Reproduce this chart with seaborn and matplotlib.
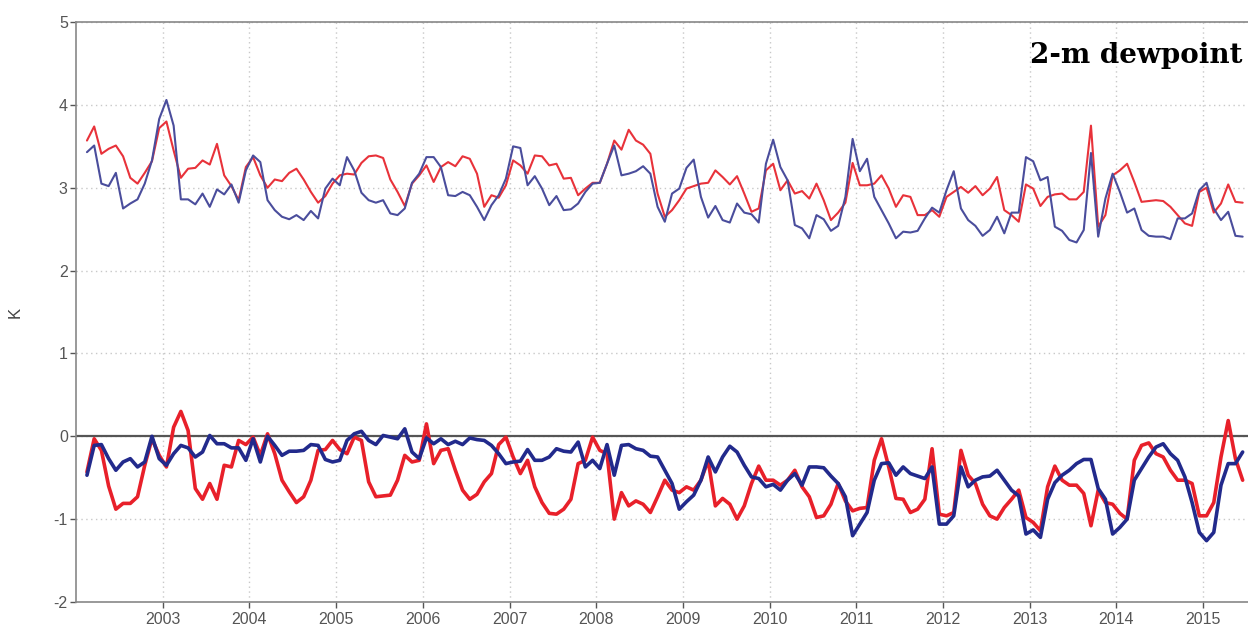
import numpy as np
import pandas as pd
import matplotlib
matplotlib.use('Agg')
import matplotlib.pyplot as plt
import seaborn as sb

# monthly values, Feb 2002 .. Jun 2015 (K)
red_up = [3.57, 3.74, 3.41, 3.47, 3.51, 3.38, 3.12, 3.05, 3.18, 3.32, 3.72, 3.80, 3.45, 3.12, 3.23, 3.24,
          3.33, 3.28, 3.53, 3.15, 3.02, 2.85, 3.25, 3.37, 3.15, 3.00, 3.10, 3.08, 3.18, 3.23, 3.10, 2.95,
          2.82, 2.90, 3.05, 3.15, 3.17, 3.16, 3.30, 3.38, 3.39, 3.36, 3.10, 2.95, 2.78, 3.05, 3.15,
          3.27, 3.07, 3.25, 3.31, 3.26, 3.38, 3.35, 3.17, 2.77, 2.91, 2.88, 3.03, 3.33, 3.27, 3.17, 3.39,
          3.38, 3.27, 3.29, 3.11, 3.12, 2.91, 2.99, 3.06, 3.06, 3.29, 3.57, 3.46, 3.70, 3.57, 3.52, 3.41,
          2.93, 2.65, 2.73, 2.85, 2.99, 3.02, 3.05, 3.06, 3.21, 3.13, 3.04, 3.14, 2.93, 2.71, 2.75, 3.21,
          3.29, 2.97, 3.09, 2.93, 2.96, 2.87, 3.05,
          2.85, 2.61, 2.70, 2.82, 3.30, 3.03, 3.03, 3.05, 3.15, 2.99, 2.77, 2.91, 2.89, 2.67, 2.67, 2.73,
          2.65, 2.89, 2.95, 3.01, 2.94, 3.02, 2.91, 2.99, 3.13, 2.73, 2.67, 2.59, 3.04, 2.99, 2.78, 2.89,
          2.92, 2.93, 2.86, 2.86, 2.95, 3.75, 2.53, 2.67, 3.15, 3.21, 3.29, 3.07, 2.83, 2.84, 2.85, 2.84,
          2.77, 2.67, 2.57, 2.54, 2.95, 3.00, 2.70, 2.81, 3.04, 2.83, 2.82]

blue_up = [3.43, 3.51, 3.05, 3.02, 3.18, 2.75, 2.81, 2.86, 3.05, 3.33, 3.83, 4.06, 3.75, 2.86, 2.86, 2.80,
           2.93, 2.77, 2.98, 2.92, 3.04, 2.82, 3.21, 3.39, 3.31, 2.85, 2.73, 2.65, 2.62, 2.67, 2.61, 2.72,
           2.63, 2.99, 3.11, 3.03, 3.37, 3.21, 2.94, 2.85, 2.82, 2.85, 2.69, 2.67, 2.75,
           3.06, 3.17, 3.37, 3.37, 3.25, 2.91, 2.90, 2.95, 2.91, 2.77, 2.61, 2.79, 2.91, 3.11, 3.50, 3.48,
           3.03, 3.14, 2.99, 2.79, 2.90, 2.73, 2.74, 2.81, 2.95, 3.05, 3.06, 3.29, 3.51, 3.15, 3.17, 3.20,
           3.26, 3.17, 2.77, 2.59, 2.93, 2.99, 3.24, 3.34, 2.89, 2.64, 2.78, 2.61, 2.58, 2.81, 2.70, 2.68,
           2.58, 3.29, 3.58, 3.25, 3.09, 2.55, 2.51, 2.39, 2.67,
           2.62, 2.48, 2.54, 2.89, 3.59, 3.20, 3.35, 2.89, 2.73, 2.57, 2.39, 2.47, 2.46, 2.48, 2.63, 2.76,
           2.70, 2.97, 3.20, 2.75, 2.61, 2.54, 2.42, 2.49, 2.65, 2.45, 2.70, 2.70, 3.37, 3.32, 3.09, 3.13,
           2.53, 2.48, 2.37, 2.34, 2.49, 3.42, 2.41, 2.87, 3.17, 2.95, 2.70, 2.75, 2.49, 2.42, 2.41, 2.41,
           2.38, 2.63, 2.63, 2.69, 2.97, 3.06, 2.75, 2.61, 2.71, 2.42, 2.41]

red_lo = [-0.43, -0.03, -0.17, -0.60, -0.88, -0.81, -0.81, -0.73, -0.35, -0.03, -0.23, -0.37, 0.11, 0.30,
          0.07, -0.63, -0.76, -0.57, -0.76, -0.35, -0.37, -0.05, -0.10, -0.01, -0.23, 0.03, -0.21, -0.53,
          -0.67, -0.80, -0.73, -0.53, -0.17, -0.16, -0.05, -0.16, -0.21, -0.01, -0.05, -0.55, -0.73, -0.72,
          -0.71, -0.53, -0.23, -0.31, -0.29, 0.15, -0.33, -0.17, -0.15, -0.41,
          -0.65, -0.76, -0.70, -0.55, -0.45, -0.10, -0.01, -0.25, -0.45, -0.29, -0.61, -0.80, -0.93, -0.94,
          -0.88, -0.76, -0.33, -0.29, -0.01, -0.17, -0.21, -1.00, -0.68, -0.84, -0.78, -0.82, -0.92, -0.73,
          -0.53, -0.65, -0.68, -0.61, -0.65, -0.53, -0.29, -0.84, -0.75, -0.82, -1.00, -0.84, -0.57, -0.36,
          -0.53, -0.53, -0.59, -0.53, -0.41, -0.61, -0.73, -0.98, -0.96, -0.82, -0.57,
          -0.78, -0.90, -0.87, -0.86, -0.29, -0.03, -0.37, -0.75, -0.76, -0.92, -0.88, -0.76, -0.15, -0.94,
          -0.96, -0.92, -0.17, -0.47, -0.57, -0.82, -0.96, -1.00, -0.86, -0.76, -0.65, -0.98, -1.04, -1.14,
          -0.61, -0.36, -0.53, -0.59, -0.59, -0.69, -1.08, -0.65, -0.80, -0.82, -0.93, -1.00, -0.29, -0.11,
          -0.08, -0.21, -0.25, -0.41, -0.53, -0.53, -0.57, -0.96, -0.96, -0.80, -0.25, 0.19, -0.27, -0.53]

blue_lo = [-0.47, -0.11, -0.10, -0.27, -0.41, -0.31, -0.27, -0.37, -0.31, 0.00, -0.27, -0.35, -0.21, -0.11,
           -0.14, -0.25, -0.19, 0.01, -0.09, -0.09, -0.14, -0.14, -0.29, -0.03, -0.31, 0.00, -0.11, -0.23,
           -0.18, -0.18, -0.17, -0.10, -0.11, -0.28, -0.31, -0.29, -0.05, 0.03, 0.06, -0.05, -0.10, 0.01,
           -0.01, -0.03, 0.09, -0.19, -0.27, -0.02, -0.09, -0.03, -0.10, -0.06,
           -0.10, -0.02, -0.04, -0.05, -0.11, -0.21, -0.33, -0.31, -0.30, -0.16, -0.29, -0.29, -0.25, -0.15,
           -0.18, -0.19, -0.07, -0.37, -0.29, -0.39, -0.10, -0.47, -0.11, -0.10, -0.15, -0.17, -0.24, -0.25,
           -0.41, -0.57, -0.88, -0.79, -0.71, -0.53, -0.25, -0.43, -0.25, -0.12, -0.19, -0.35, -0.49, -0.51,
           -0.61, -0.58, -0.65, -0.53, -0.45, -0.59, -0.37, -0.37, -0.38,
           -0.48, -0.57, -0.73, -1.20, -1.06, -0.92, -0.53, -0.33, -0.32, -0.47, -0.37, -0.45, -0.48, -0.51,
           -0.37, -1.06, -1.06, -0.96, -0.37, -0.61, -0.53, -0.49, -0.48, -0.41, -0.53, -0.65, -0.72, -1.18,
           -1.13, -1.22, -0.76, -0.56, -0.47, -0.41, -0.33, -0.28, -0.28, -0.63, -0.76, -1.18, -1.10, -1.00,
           -0.53, -0.39, -0.25, -0.13, -0.09, -0.21, -0.29, -0.49, -0.80, -1.16, -1.26, -1.16, -0.59, -0.33,
           -0.33, -0.19]

years = list(range(2003, 2016))
yticks = [-2, -1, 0, 1, 2, 3, 4, 5]

# mid-month time axis in decimal years
t = 2002.125 + np.arange(len(red_up)) / 12
data = pd.DataFrame({'t': t, 'red_up': red_up, 'blue_up': blue_up,
                     'red_lo': red_lo, 'blue_lo': blue_lo})

sb.set_style('white')
plt.rcParams['font.family'] = ['Liberation Sans', 'DejaVu Sans']
plt.rcParams['axes.unicode_minus'] = False

fig = plt.figure(figsize=(12.48, 6.31), dpi=100)
ax = fig.add_axes([0.061, 0.046, 0.939, 0.919])

ax.axhline(0, color='#555555', lw=1.6, zorder=1)

sb.lineplot(data=data, x='t', y='red_up', color='#e8323a', lw=1.5, ax=ax)
sb.lineplot(data=data, x='t', y='blue_up', color='#4a4d9c', lw=1.5, ax=ax)
sb.lineplot(data=data, x='t', y='red_lo', color='#e8202a', lw=2.6, ax=ax)
sb.lineplot(data=data, x='t', y='blue_lo', color='#222a8c', lw=2.6, ax=ax)

ax.set_xlim(2002.0, 2015.52)
ax.set_ylim(-2, 5)
ax.set_xticks(years)
ax.set_xticklabels([str(y) for y in years])
ax.set_yticks(yticks)
ax.grid(True, color='#c8c8c8', linestyle=(0, (1, 2.5)), lw=1.0)
ax.tick_params(axis='both', colors='#555555', labelsize=11.5, length=4, width=1,
               direction='out', bottom=True, left=True)
ax.tick_params(axis='y', pad=2)
ax.tick_params(axis='x', pad=3)

for side in ['left', 'bottom', 'top']:
    ax.spines[side].set_color('#888888')
    ax.spines[side].set_linewidth(1.2)
ax.spines['right'].set_visible(False)

ax.set_xlabel('')
ax.set_ylabel('K', color='#444444', fontsize=12, labelpad=22)

ax.text(0.9957, 0.929, '2-m dewpoint', transform=ax.transAxes, ha='right', va='baseline',
        fontsize=20, fontweight='bold', family=['DejaVu Serif'], color='black')

fig.savefig('out.png', dpi=100)
